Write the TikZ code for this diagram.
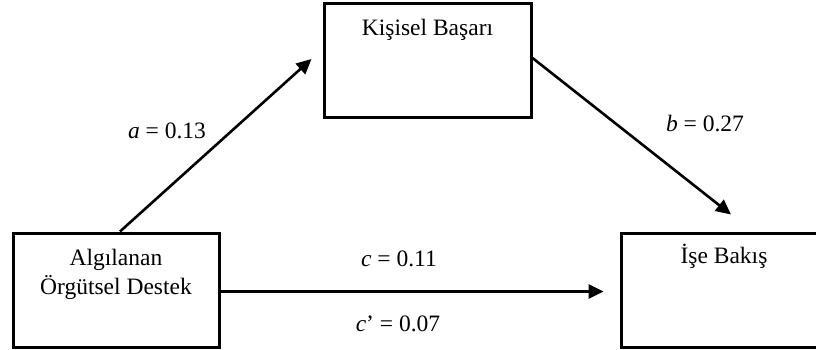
\documentclass[tikz,border=0pt]{standalone}
\usepackage{fontspec}
\setmainfont{Liberation Serif}
\usetikzlibrary{arrows.meta}
\begin{document}
\begin{tikzpicture}[x=1pt,y=1pt,
  box/.style={draw=black, line width=3pt, minimum width=206pt, minimum height=114pt, inner sep=0pt, fill=white},
  btext/.style={anchor=base, inner sep=0pt, font=\fontsize{23.5}{29}\selectfont},
  lbl/.style={anchor=base, inner sep=0pt, font=\fontsize{23.5}{29}\selectfont},
  arr/.style={line width=2.6pt, -{Triangle[length=15pt,width=14pt]}}]
\useasboundingbox (0,0) rectangle (816,349);
\node[box] (lb) at (116,59) {};
\node[box, minimum width=207pt, minimum height=113pt] (tb) at (427.5,288.5) {};
\node[box] (rb) at (724,59) {};
\node[btext] (lt1) at ([yshift=-33.5pt]lb.north) {Algılanan};
\node[btext] (lt2) at ([yshift=-62.5pt]lb.north) {Örgütsel Destek};
\node[btext] (tt) at ([yshift=-33pt]tb.north) {Kişisel Başarı};
\node[btext] (rt) at ([yshift=-32pt]rb.north) {İşe Bakış};
\draw[arr] ([xshift=4pt]lb.north) -- ([xshift=-11pt,yshift=1.5pt]tb.west);
\draw[arr] ([yshift=2.5pt]tb.east) -- ([xshift=7pt,yshift=17pt]rb.north);
\draw[arr] ([yshift=-1.5pt]lb.east) -- ([xshift=-16pt,yshift=-1.5pt]rb.west);
\node[lbl] (la) at (167,211) {\textit{a} = 0.13};
\node[lbl] (lbb) at (705,218) {\textit{b} = 0.27};
\node[lbl] (lc) at (399,83) {\textit{c} = 0.11};
\node[lbl] (lcp) at (398,18) {\textit{c}’ = 0.07};
\end{tikzpicture}
\end{document}
